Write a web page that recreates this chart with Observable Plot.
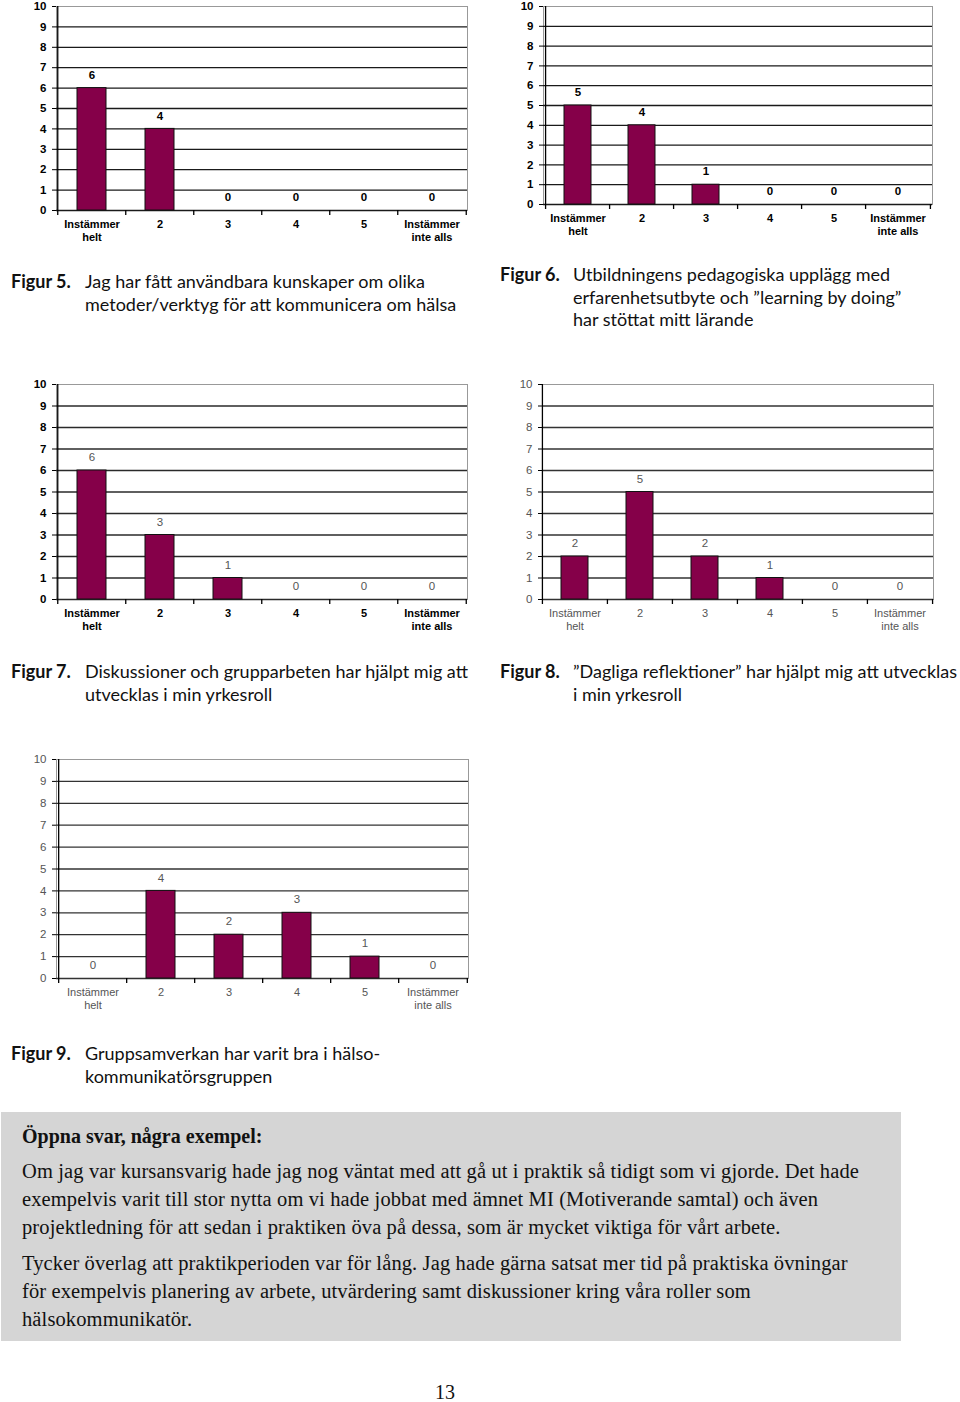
<!DOCTYPE html>
<html>
<head>
<meta charset="utf-8">
<script src="https://cdn.jsdelivr.net/npm/d3@7"></script>
<script src="https://cdn.jsdelivr.net/npm/@observablehq/plot@0.6"></script>
<style>
  body { margin: 0; background: #fff; }
  #page { position: relative; width: 960px; height: 1402px; background: #fff; overflow: hidden; }
  .chart { position: absolute; }
  .cap { position: absolute; display: flex; font-family: Lato, "Open Sans", sans-serif; font-size: 18px; line-height: 22.5px; color: #111; }
  .cap .lab { font-weight: bold; flex: none; }
  #box { position: absolute; left: 1px; top: 1112px; width: 879px; height: 219px; background: #d5d5d5; padding: 10px 0 0 21px;
         font-family: "Liberation Serif", "DejaVu Serif", serif; font-size: 20.5px; letter-spacing: 0.12px; line-height: 28px; color: #111; }
  #box h3 { margin: 0; font-size: 20px; line-height: 28px; font-weight: bold; letter-spacing: 0; }
  #box p { margin: 7px 0 0 0; }
  #box p + p { margin-top: 8px; }
  #pnum { position: absolute; left: 0; width: 890px; top: 1382px; text-align: center; font-family: "Liberation Serif", serif; font-size: 20px; line-height: 20px; color: #111; }
</style>
</head>
<body>
<div id="page"></div>
<script>
// ---------- data ----------
const categories = ["Instämmer\nhelt", "2", "3", "4", "5", "Instämmer\ninte alls"];
const yTicks = [0, 1, 2, 3, 4, 5, 6, 7, 8, 9, 10];
const fig5 = [6, 4, 0, 0, 0, 0];
const fig6 = [5, 4, 1, 0, 0, 0];
const fig7 = [6, 3, 1, 0, 0, 0];
const fig8 = [2, 5, 2, 1, 0, 0];
const fig9 = [0, 4, 2, 3, 1, 0];

const captionLabels = ["Figur 5.", "Figur 6.", "Figur 7.", "Figur 8.", "Figur 9."];
const captionTexts = [
  ["Jag har fått användbara kunskaper om olika", "metoder/verktyg för att kommunicera om hälsa"],
  ["Utbildningens pedagogiska upplägg med", "erfarenhetsutbyte och ”learning by doing”", "har stöttat mitt lärande"],
  ["Diskussioner och grupparbeten har hjälpt mig att", "utvecklas i min yrkesroll"],
  ["”Dagliga reflektioner” har hjälpt mig att utvecklas", "i min yrkesroll"],
  ["Gruppsamverkan har varit bra i hälso-", "kommunikatörsgruppen"]
];
const boxHeading = "Öppna svar, några exempel:";
const boxParagraphs = [
  ["Om jag var kursansvarig hade jag nog väntat med att gå ut i praktik så tidigt som vi gjorde. Det hade",
   "exempelvis varit till stor nytta om vi hade jobbat med ämnet MI (Motiverande samtal) och även",
   "projektledning för att sedan i praktiken öva på dessa, som är mycket viktiga för vårt arbete."],
  ["Tycker överlag att praktikperioden var för lång. Jag hade gärna satsat mer tid på praktiska övningar",
   "för exempelvis planering av arbete, utvärdering samt diskussioner kring våra roller som",
   "hälsokommunikatör."]
];
const pageNumber = "13";

// ---------- layout ----------
const barColor = "#850049";
const page = document.getElementById("page");

const charts = [
  {values: fig5, left: 0,   top: 0,   width: 480, height: 250, ml: 56, mr: 13, mt: 6,  mb: 40, bold: true,  valBold: true,  label: "#000", val: "#000", grid: "#1a1a1a"},
  {values: fig6, left: 490, top: 0,   width: 460, height: 245, ml: 53, mr: 18, mt: 6,  mb: 41, bold: true,  valBold: true,  label: "#000", val: "#000", grid: "#1a1a1a"},
  {values: fig7, left: 0,   top: 370, width: 480, height: 270, ml: 56, mr: 13, mt: 14, mb: 41, bold: true,  valBold: false, label: "#000", val: "#555", grid: "#2a2a2a"},
  {values: fig8, left: 490, top: 370, width: 460, height: 270, ml: 52, mr: 17, mt: 14, mb: 41, bold: false, valBold: false, label: "#555", val: "#555", grid: "#333"},
  {values: fig9, left: 0,   top: 745, width: 480, height: 280, ml: 56, mr: 12, mt: 14, mb: 47, bold: false, valBold: false, label: "#555", val: "#555", grid: "#333"}
];

function makeChart(c) {
  const data = categories.map((k, i) => ({k, v: c.values[i]}));
  const step = (c.width - c.ml - c.mr) / categories.length;
  const fw = c.bold ? "bold" : "normal";
  return Plot.plot({
    width: c.width, height: c.height,
    marginLeft: c.ml, marginRight: c.mr, marginTop: c.mt, marginBottom: c.mb,
    style: {fontFamily: "'Liberation Sans', Arial, sans-serif", fontSize: "11px", background: "#fff", overflow: "visible"},
    x: {domain: categories, paddingInner: 0.58, paddingOuter: 0.29, align: 0.5, label: null},
    y: {domain: [0, 10], label: null},
    marks: [
      Plot.frame({stroke: "#999"}),
      Plot.ruleY(yTicks.filter(t => t < 10), {stroke: c.grid, strokeWidth: 1.3}),
      Plot.barY(data, {x: "k", y: "v", fill: barColor, stroke: "#111", strokeWidth: 1}),
      Plot.text(data, {x: "k", y: "v", text: d => String(d.v), dy: -13, fill: c.val, fontWeight: c.valBold ? "bold" : "normal", fontSize: 11.5}),
      Plot.ruleX(categories.slice(0, 1), {x: d => d, dx: -step / 2, stroke: "#000", strokeWidth: 1.3}),
      Plot.ruleX(categories, {x: d => d, y1: 0, y2: 0, insetBottom: -5, dx: -step / 2, stroke: "#000", strokeWidth: 1.3}),
      Plot.ruleX(categories.slice(-1), {x: d => d, y1: 0, y2: 0, insetBottom: -5, dx: step / 2, stroke: "#000", strokeWidth: 1.3}),
      Plot.axisY({ticks: yTicks, tickSize: 4, tickPadding: 6, tickFormat: d => String(d), stroke: "#000", fill: c.label, fontWeight: fw, fontSize: 11.5, label: null}),
      Plot.axisX({tickSize: 0, tickPadding: 8, lineHeight: 1.2, fill: c.label, fontWeight: fw, fontSize: 11, label: null})
    ]
  });
}

charts.forEach(c => {
  const holder = document.createElement("div");
  holder.className = "chart";
  holder.style.left = c.left + "px";
  holder.style.top = c.top + "px";
  holder.appendChild(makeChart(c));
  page.appendChild(holder);
});

// ---------- captions ----------
const capPos = [
  {left: 11, top: 270, labW: 74},
  {left: 500, top: 263, labW: 73},
  {left: 11, top: 660, labW: 74},
  {left: 500, top: 660, labW: 73},
  {left: 11, top: 1042, labW: 74}
];
captionLabels.forEach((lab, i) => {
  const d = document.createElement("div");
  d.className = "cap";
  d.style.left = capPos[i].left + "px";
  d.style.top = capPos[i].top + "px";
  const l = document.createElement("span");
  l.className = "lab";
  l.style.width = capPos[i].labW + "px";
  l.textContent = lab;
  const t = document.createElement("span");
  t.innerHTML = captionTexts[i].join("<br>");
  d.appendChild(l); d.appendChild(t);
  page.appendChild(d);
});

// ---------- text box ----------
const box = document.createElement("div");
box.id = "box";
const h = document.createElement("h3");
h.textContent = boxHeading;
box.appendChild(h);
boxParagraphs.forEach(lines => {
  const p = document.createElement("p");
  p.innerHTML = lines.join("<br>");
  box.appendChild(p);
});
page.appendChild(box);

const pn = document.createElement("div");
pn.id = "pnum";
pn.textContent = pageNumber;
page.appendChild(pn);
</script>
</body>
</html>
